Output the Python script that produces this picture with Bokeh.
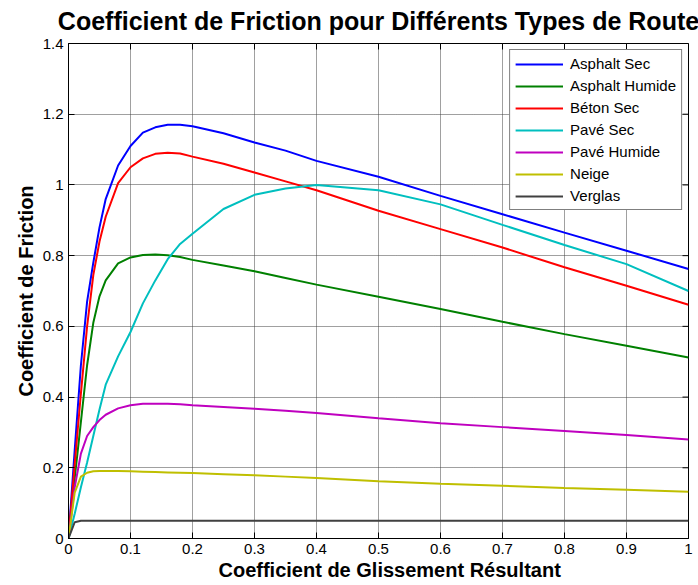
import math
from bokeh.plotting import figure
from bokeh.models import Title, FixedTicker, Range1d
from bokeh.embed import file_html
from bokeh.resources import INLINE

# ---------------- data ----------------
slip = [0.00, 0.01, 0.02, 0.03, 0.04, 0.05, 0.06, 0.08, 0.10, 0.12, 0.14, 0.16,
        0.18, 0.20, 0.25, 0.30, 0.35, 0.40, 0.50, 0.60, 0.70, 0.80, 0.90, 1.00]

asphalt_sec = [0, 0.25, 0.49, 0.67, 0.78, 0.88, 0.96, 1.055, 1.11, 1.148, 1.163, 1.17,
               1.17, 1.166, 1.146, 1.12, 1.097, 1.068, 1.023, 0.969, 0.917, 0.865, 0.814, 0.762]
asphalt_humide = [0, 0.17, 0.33, 0.49, 0.61, 0.685, 0.73, 0.778, 0.795, 0.802, 0.803, 0.801,
                  0.796, 0.788, 0.772, 0.756, 0.737, 0.718, 0.684, 0.649, 0.613, 0.578, 0.545, 0.512]
beton_sec = [0, 0.21, 0.41, 0.60, 0.745, 0.84, 0.91, 1.005, 1.05, 1.075, 1.088, 1.091,
             1.089, 1.08, 1.06, 1.035, 1.01, 0.985, 0.927, 0.875, 0.823, 0.767, 0.715, 0.661]
pave_sec = [0, 0.07, 0.145, 0.215, 0.29, 0.365, 0.435, 0.515, 0.584, 0.665, 0.73, 0.79,
            0.833, 0.862, 0.932, 0.972, 0.99, 1.0, 0.985, 0.945, 0.887, 0.83, 0.776, 0.70]
pave_humide = [0, 0.145, 0.24, 0.29, 0.315, 0.335, 0.35, 0.368, 0.377, 0.381, 0.381, 0.381,
               0.38, 0.377, 0.372, 0.367, 0.361, 0.355, 0.34, 0.326, 0.315, 0.304, 0.293, 0.28]
neige = [0, 0.13, 0.175, 0.186, 0.19, 0.191, 0.191, 0.191, 0.19, 0.189, 0.188, 0.187,
         0.186, 0.185, 0.182, 0.179, 0.175, 0.171, 0.162, 0.155, 0.149, 0.143, 0.138, 0.132]
verglas = [0, 0.046, 0.05, 0.05, 0.05, 0.05, 0.05, 0.05, 0.05, 0.05, 0.05, 0.05,
           0.05, 0.05, 0.05, 0.05, 0.05, 0.05, 0.05, 0.05, 0.05, 0.05, 0.05, 0.05]

series_names = ["Asphalt Sec", "Asphalt Humide", "Béton Sec", "Pavé Sec",
                "Pavé Humide", "Neige", "Verglas"]
series_values = [asphalt_sec, asphalt_humide, beton_sec, pave_sec,
                 pave_humide, neige, verglas]
series_colors = ["#0000ff", "#008000", "#ff0000", "#00bfbf",
                 "#bf00bf", "#bfbf00", "#404040"]

x_ticks = [0, 0.1, 0.2, 0.3, 0.4, 0.5, 0.6, 0.7, 0.8, 0.9, 1]
x_tick_labels = ["0", "0.1", "0.2", "0.3", "0.4", "0.5", "0.6", "0.7", "0.8", "0.9", "1"]
y_ticks = [0, 0.2, 0.4, 0.6, 0.8, 1, 1.2, 1.4]
y_tick_labels = ["0", "0.2", "0.4", "0.6", "0.8", "1", "1.2", "1.4"]

title_text = "Coefficient de Friction pour Différents Types de Route"
x_label_text = "Coefficient de Glissement Résultant"
y_label_text = "Coefficient de Friction"

FONT = "Liberation Sans"

# ---------------- figure ----------------
p = figure(width=698, height=585, output_backend="svg", toolbar_location=None,
           x_range=Range1d(x_ticks[0], x_ticks[-1]), y_range=Range1d(y_ticks[0], y_ticks[-1]),
           min_border_left=68, min_border_right=10, min_border_top=43,
           min_border_bottom=47, title=title_text)

p.background_fill_color = "white"
p.border_fill_color = "white"
p.outline_line_color = "black"
p.outline_line_width = 1

p.title.align = "center"
p.title.vertical_align = "top"
p.title.text_font = FONT
p.title.text_font_size = "25px"
p.title.text_font_style = "bold"
p.title.text_color = "black"
p.title.standoff = 13

for ax, ticks, labels in ((p.xaxis[0], x_ticks, x_tick_labels),
                          (p.yaxis[0], y_ticks, y_tick_labels)):
    ax.ticker = FixedTicker(ticks=ticks)
    ax.major_label_overrides = {t: l for t, l in zip(ticks, labels)}
    ax.major_tick_in = 6
    ax.major_tick_out = 0
    ax.minor_tick_line_color = None
    ax.axis_line_color = "black"
    ax.major_tick_line_color = "black"
    ax.major_label_text_font = FONT
    ax.major_label_text_font_size = "15px"
    ax.major_label_text_color = "black"

p.xaxis[0].major_label_standoff = 5
p.yaxis[0].major_label_standoff = 5
p.yaxis[0].axis_label = y_label_text
p.yaxis[0].axis_label_text_font = FONT
p.yaxis[0].axis_label_text_font_size = "20px"
p.yaxis[0].axis_label_text_font_style = "bold"
p.yaxis[0].axis_label_text_color = "black"
p.yaxis[0].axis_label_standoff = 3

# x-axis label (left-pinned like the reference)
xlab = Title(text=x_label_text, align="left", offset=150, vertical_align="bottom",
             standoff=0, text_font=FONT, text_font_size="20px", text_font_style="bold",
             text_color="black")
p.add_layout(xlab, "below")

p.xgrid.ticker = FixedTicker(ticks=x_ticks)
p.ygrid.ticker = FixedTicker(ticks=y_ticks)
for g in (p.xgrid[0], p.ygrid[0]):
    g.grid_line_color = "#404040"
    g.grid_line_dash = "1 1"
    g.grid_line_width = 1

# inward tick marks on the top and right edges of the box
p.scatter(x=x_ticks, y=[y_ticks[-1]] * len(x_ticks), marker="dash", size=12,
          angle=math.pi / 2, line_color="black", line_width=1)
p.scatter(x=[x_ticks[-1]] * len(y_ticks), y=y_ticks, marker="dash", size=12,
          angle=0, line_color="black", line_width=1)

for name, vals, col in zip(series_names, series_values, series_colors):
    p.line(slip, vals, line_color=col, line_width=2, legend_label=name)

lg = p.legend[0]
lg.location = "top_right"
lg.margin = 6
lg.padding = 5
lg.spacing = 5
lg.label_height = 16
lg.glyph_height = 16
lg.glyph_width = 48
lg.label_standoff = 7
lg.label_text_font = FONT
lg.label_text_font_size = "15px"
lg.label_text_color = "black"
lg.border_line_color = "black"
lg.border_line_width = 1
lg.background_fill_color = "white"
lg.background_fill_alpha = 1

open("out.html", "w").write(file_html(p, INLINE))
